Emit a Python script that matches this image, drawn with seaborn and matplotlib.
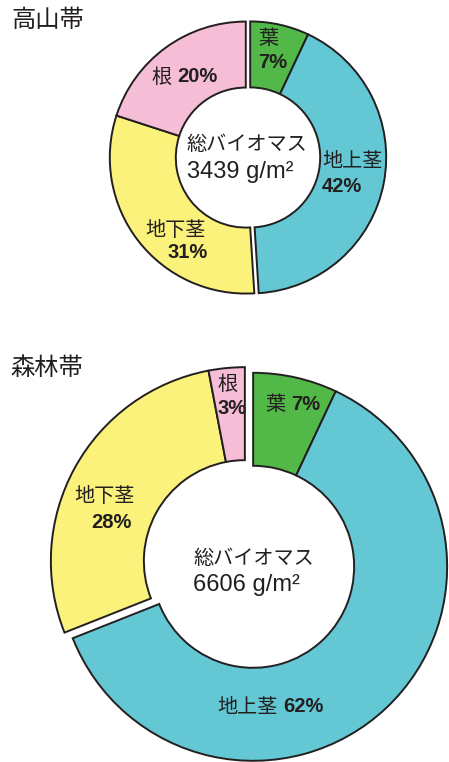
import numpy as np
import matplotlib
matplotlib.use("Agg")
import matplotlib.pyplot as plt
import seaborn as sns

# ---- data ----
parts = ["葉", "地上茎", "地下茎", "根"]
alpine_pct = [7, 42, 31, 20]
forest_pct = [7, 62, 28, 3]
alpine_total = 3439
forest_total = 6606
zone_names = ["高山帯", "森林帯"]
part_colors = ["#52b848", "#63c8d4", "#fbf27b", "#f6bdd6"]

sns.set_theme(style="white")
plt.rcParams['font.family'] = ['Liberation Sans', 'Noto Sans CJK JP', 'DejaVu Sans']

W, H = 449, 762
INK = "#231f20"
fig = plt.figure(figsize=(W / 100, H / 100), dpi=100)
ax = fig.add_axes([0, 0, 1, 1])


def donut(pct, cx, cy, r, r_in, gap):
    fr = np.array(pct, dtype=float) / 100.0
    start = 0.0
    for a, b in [(0, 2), (2, 4)]:
        g = fr[a:b]
        mid = start + g.sum() / 2
        ang = np.deg2rad(90 - mid * 360)
        c = (cx + gap * np.cos(ang), cy + gap * np.sin(ang))
        ax.pie(g, normalize=False, startangle=90 - start * 360, counterclock=False,
               radius=r, center=c, colors=part_colors[a:b],
               wedgeprops=dict(width=r - r_in, edgecolor=INK, linewidth=1.4))
        start += g.sum()


def txt(x, y_img, s, size=14.5, weight="normal", ha="left"):
    ax.text(x, H - y_img, s, fontsize=size, fontweight=weight, ha=ha,
            va="center", color=INK)


# top donut (alpine)
donut(alpine_pct, 248, H - 157.5, 136, 70, 2.2)
# bottom donut (forest)
donut(forest_pct, 249, H - 564, 194, 101, 5.0)

ax.set_xlim(0, W)
ax.set_ylim(0, H)
ax.set_aspect("auto")
ax.axis("off")

# titles
txt(11, 21, zone_names[0], size=17.5)
txt(10, 369, zone_names[1], size=17.5)

# alpine labels
txt(258, 39, parts[0])
txt(258, 63, f"{alpine_pct[0]}%", weight="bold")
txt(151, 77, parts[3])
txt(177, 77, f"{alpine_pct[3]}%", weight="bold")
txt(322, 162, parts[1])
txt(322, 187, f"{alpine_pct[1]}%", weight="bold")
txt(145, 230, parts[2])
txt(167, 253, f"{alpine_pct[2]}%", weight="bold")
txt(247, 145, "総バイオマス", ha="center")
txt(187, 172, f"{alpine_total} g/m²", size=17)

# forest labels
txt(217, 384, parts[3])
txt(217, 409, f"{forest_pct[3]}%", weight="bold")
txt(265, 404, parts[0])
txt(291, 404, f"{forest_pct[0]}%", weight="bold")
txt(74, 497, parts[2])
txt(91, 522, f"{forest_pct[2]}%", weight="bold")
txt(254, 558, "総バイオマス", ha="center")
txt(193, 585, f"{forest_total} g/m²", size=17)
txt(217, 707, parts[1])
txt(283, 707, f"{forest_pct[1]}%", weight="bold")

fig.savefig("out.png", dpi=100)
